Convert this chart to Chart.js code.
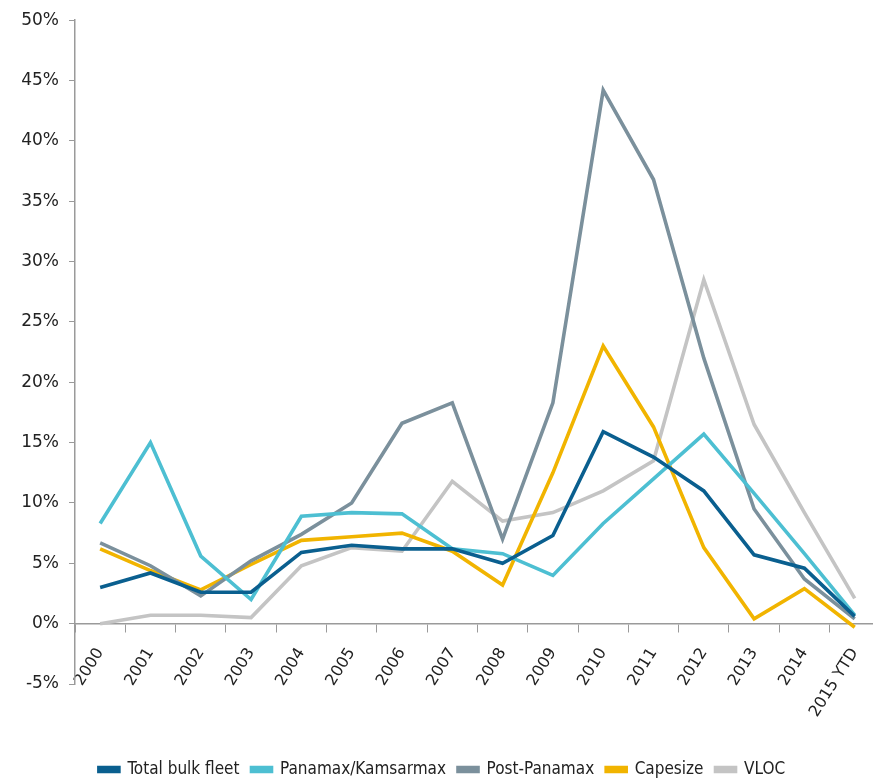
<!DOCTYPE html>
<html>
<head>
<meta charset="utf-8">
<script src="https://cdn.jsdelivr.net/npm/chart.js@4"></script>
<style>
  html, body { margin: 0; padding: 0; background: #fff; overflow: hidden; }
  #wrap { width: 884px; height: 788px; }
</style>
</head>
<body>
<div id="wrap"><canvas id="chart"></canvas></div>
<script>
const years = ['2000', '2001', '2002', '2003', '2004', '2005', '2006', '2007',
  '2008', '2009', '2010', '2011', '2012', '2013', '2014', '2015 YTD']

const totalBulk = [3.0, 4.2, 2.6, 2.6, 5.9, 6.5, 6.2, 6.2, 5.0, 7.3, 15.9, 13.8, 11.0, 5.7, 4.6, 0.6]
const panamax = [8.3, 15.0, 5.6, 2.0, 8.9, 9.2, 9.1, 6.2, 5.8, 4.0, 8.3, 12.0, 15.7, 10.8, 5.8, 0.7]
const postPanamax = [6.7, 4.8, 2.3, 5.2, 7.4, 10.0, 16.6, 18.3, 7.0, 18.3, 44.2, 36.8, 22.0, 9.5, 3.7, 0.4]
const capesize = [6.2, 4.4, 2.8, 4.9, 6.9, 7.2, 7.5, 6.0, 3.2, 12.5, 23.0, 16.3, 6.3, 0.4, 2.9, -0.3]
const vloc = [0.0, 0.7, 0.7, 0.5, 4.8, 6.3, 6.0, 11.8, 8.5, 9.2, 11.0, 13.5, 28.5, 16.5, 9.2, 2.1]

const axisColor = '#9a9a9a'

function series (label, data, color) {
  return {
    label,
    data,
    borderColor: color,
    backgroundColor: color,
    borderWidth: 3.6,
    pointRadius: 0,
    tension: 0
  }
}

new Chart(document.getElementById('chart'), {
  type: 'line',
  data: {
    labels: years,
    datasets: [
      series('Total bulk fleet', totalBulk, '#0a5f8f'),
      series('Panamax/Kamsarmax', panamax, '#4dbfd2'),
      series('Post-Panamax', postPanamax, '#7b909c'),
      series('Capesize', capesize, '#f1b400'),
      series('VLOC', vloc, '#c4c4c4')
    ]
  },
  options: {
    responsive: true,
    maintainAspectRatio: false,
    animation: false,
    layout: { padding: { top: 10, left: 0, right: 0, bottom: 0 } },
    plugins: {
      tooltip: { enabled: false },
      legend: {
        position: 'bottom',
        align: 'center',
        // empty title only reserves the gap between the plot and the legend row
        title: { display: true, text: ' ', font: { size: 10, lineHeight: 1 }, padding: { top: 55, bottom: 0 } },
        labels: {
          boxWidth: 20,
          boxHeight: 4,
          padding: 12,
          color: '#222',
          font: { family: 'DejaVu Sans Condensed, DejaVu Sans', size: 17 }
        }
      }
    },
    scales: {
      x: {
        position: { y: 0 },
        offset: true,
        grid: { offset: true, drawOnChartArea: false, tickLength: 8, color: axisColor },
        border: { color: axisColor, width: 1.5 },
        ticks: {
          autoSkip: false,
          maxRotation: 58,
          minRotation: 58,
          padding: 13,
          color: '#222',
          font: { family: 'DejaVu Sans', size: 16 }
        }
      },
      y: {
        min: -5,
        max: 50,
        afterFit: (scale) => { scale.width = 75 },
        grid: { drawOnChartArea: false, tickLength: 6, color: axisColor },
        border: { color: axisColor, width: 1.5 },
        ticks: {
          stepSize: 5,
          padding: 10,
          color: '#222',
          font: { family: 'DejaVu Sans', size: 17 },
          callback: (v) => v + '%'
        }
      }
    }
  }
})
</script>
</body>
</html>
